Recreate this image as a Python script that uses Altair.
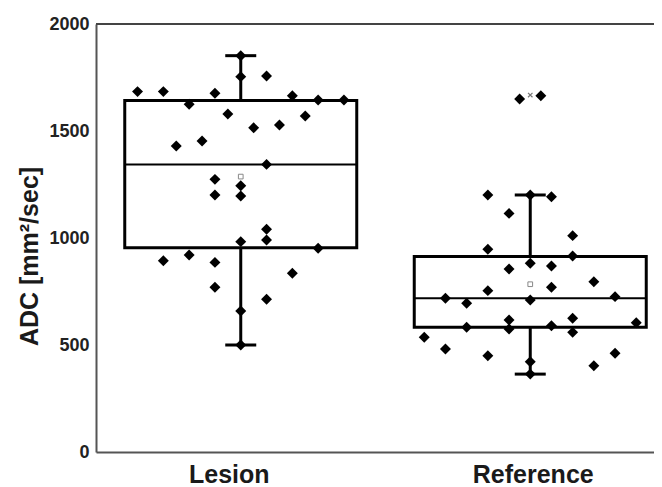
import altair as alt
import pandas as pd

# ---- data ----
groups = ["Lesion", "Reference"]

lesion_col = [0, 0, 2, -8, -6, -2, 4, 6, 8, -4, -1, 1, 3, 5, -5, -3, 2, -2, 0, -2, 0,
              2, 2, 0, 6, -6, -4, -2, 4, -2, 2, 0, 0]
lesion_adc = [1852, 1754, 1757, 1684, 1684, 1676, 1665, 1645, 1645, 1625, 1579, 1515,
              1528, 1570, 1430, 1453, 1344, 1274, 1244, 1201, 1196, 1041, 991, 983, 952,
              894, 921, 886, 835, 770, 714, 659, 500]

ref_col = [-0.5, 0.5, -2, 0, 1, -1, 2, -2, 2, 0, 1, -1, 3, 1, -2, -4, 0, 4, -3, -1, 2,
           5, -3, -1, 1, 2, -5, -4, -2, 0, 0, 4, 3]
ref_adc = [1650, 1665, 1201, 1201, 1193, 1115, 1011, 947, 916, 882, 869, 855, 796, 770,
           754, 718, 710, 726, 695, 617, 625, 604, 583, 575, 590, 559, 536, 481, 450,
           422, 364, 461, 403]

q1 = [955, 583]
median = [1344, 718]
q3 = [1642, 913]
whisker_lo = [500, 364]
whisker_hi = [1852, 1201]
mean = [1287, 784]
extreme_group = ["Reference"]
extreme_val = [1668]

y_ticks = [0, 500, 1000, 1500, 2000]

# ---- layout constants ----
W, H = 558, 428
GROUP_PX = 289.5                     # pixels between group centres
X_MAX = W / GROUP_PX
BOX_HALF = 116 / GROUP_PX
CAP_HALF = 15.5 / GROUP_PX
STEP = {"Lesion": 12.9 / GROUP_PX, "Reference": 21.2 / GROUP_PX}
# label anchor positions (labels in the reference sit slightly off the box centres)
LABEL_POS = [0.5 - 12 / GROUP_PX, 1.5 + 2.5 / GROUP_PX]

pts = pd.DataFrame({
    "group": ["Lesion"] * len(lesion_adc) + ["Reference"] * len(ref_adc),
    "col": lesion_col + ref_col,
    "adc": lesion_adc + ref_adc,
})
pts["gi"] = pts["group"].map({g: i for i, g in enumerate(groups)})
pts["step"] = pts["group"].map(STEP)

stats = pd.DataFrame({"group": groups, "gi": [0, 1], "q1": q1, "median": median,
                      "q3": q3, "wlo": whisker_lo, "whi": whisker_hi, "mean": mean})
ext = pd.DataFrame({"group": extreme_group, "val": extreme_val})
ext["gi"] = ext["group"].map({g: i for i, g in enumerate(groups)})

xscale = alt.Scale(domain=[0, X_MAX], nice=False, zero=False)
yscale = alt.Scale(domain=[0, 2000], nice=False)

font = "Liberation Sans"
x_axis = alt.Axis(values=LABEL_POS,
                  labelExpr=f"datum.value < 1 ? '{groups[0]}' : '{groups[1]}'",
                  ticks=False, grid=False, domainColor="#555", domainWidth=2,
                  labelFont=font, labelFontWeight="bold", labelFontSize=25,
                  labelColor="#1a1a1a", labelPadding=10, labelFlush=False, title="")
y_axis = alt.Axis(values=y_ticks, format="d", ticks=False, grid=False,
                  domainColor="#555", domainWidth=2, labelFont=font,
                  labelFontWeight="bold", labelFontSize=18, labelColor="#222",
                  labelPadding=7,
                  title="ADC [mm²/sec]", titleFont=font, titleFontWeight="bold",
                  titleFontSize=25, titleColor="#1a1a1a", titleAngle=270,
                  titleAlign="center", titleBaseline="alphabetic",
                  titleX=-59, titleY=232)

base_stats = alt.Chart(stats).transform_calculate(
    c="datum.gi + 0.5",
    bl=f"datum.gi + 0.5 - {BOX_HALF}",
    br=f"datum.gi + 0.5 + {BOX_HALF}",
    cl=f"datum.gi + 0.5 - {CAP_HALF}",
    cr=f"datum.gi + 0.5 + {CAP_HALF}",
)

box = base_stats.mark_rect(fillOpacity=0, stroke="black", strokeWidth=3).encode(
    x=alt.X("bl:Q", scale=xscale, axis=x_axis),
    x2="br:Q",
    y=alt.Y("q1:Q", scale=yscale, axis=y_axis),
    y2="q3:Q",
)
med = base_stats.mark_rule(color="black", strokeWidth=2).encode(
    x=alt.X("bl:Q", scale=xscale), x2="br:Q",
    y=alt.Y("median:Q", scale=yscale))
wh_up = base_stats.mark_rule(color="black", strokeWidth=3).encode(
    x=alt.X("c:Q", scale=xscale),
    y=alt.Y("q3:Q", scale=yscale), y2="whi:Q")
wh_dn = base_stats.mark_rule(color="black", strokeWidth=3).encode(
    x=alt.X("c:Q", scale=xscale),
    y=alt.Y("wlo:Q", scale=yscale), y2="q1:Q")
cap_up = base_stats.mark_rule(color="black", strokeWidth=3).encode(
    x=alt.X("cl:Q", scale=xscale), x2="cr:Q",
    y=alt.Y("whi:Q", scale=yscale))
cap_dn = base_stats.mark_rule(color="black", strokeWidth=3).encode(
    x=alt.X("cl:Q", scale=xscale), x2="cr:Q",
    y=alt.Y("wlo:Q", scale=yscale))

dots = alt.Chart(pts).transform_calculate(
    xp="datum.gi + 0.5 + datum.col * datum.step"
).mark_point(shape="diamond", filled=True, color="black", size=120, opacity=1).encode(
    x=alt.X("xp:Q", scale=xscale),
    y=alt.Y("adc:Q", scale=yscale),
)

means = base_stats.mark_point(shape="square", filled=False, stroke="#888",
                              strokeWidth=1, size=22, opacity=1).encode(
    x=alt.X("c:Q", scale=xscale),
    y=alt.Y("mean:Q", scale=yscale))

extremes = alt.Chart(ext).transform_calculate(c="datum.gi + 0.5").mark_point(
    shape="M-1,-1L1,1M1,-1L-1,1", filled=False, stroke="#777", strokeWidth=1.2,
    size=20, opacity=1).encode(
    x=alt.X("c:Q", scale=xscale),
    y=alt.Y("val:Q", scale=yscale))

top_line = alt.Chart(stats).mark_rule(color="#444", strokeWidth=2).encode(
    y=alt.datum(2000, scale=yscale))

chart = alt.layer(box, med, wh_up, wh_dn, cap_up, cap_dn, top_line, dots, means,
                  extremes).properties(
    width=W, height=H,
    autosize=alt.AutoSizeParams(type="none"),
    padding={"left": 88, "top": 16, "right": 0, "bottom": 40},
    background="white",
).configure_view(strokeWidth=0).configure_axis(grid=False, ticks=False)

chart.save("out.html", embed_options={"renderer": "svg", "actions": False})
